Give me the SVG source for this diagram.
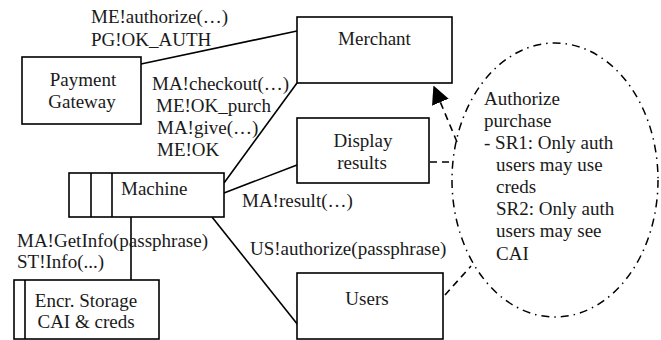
<svg xmlns="http://www.w3.org/2000/svg" width="661" height="340" viewBox="0 0 661 340" font-family="'Liberation Serif', 'Times New Roman', Times, serif" font-size="19">
<defs>
<style>
.box{fill:#fff;stroke:#000;stroke-width:1.6}
.ln{fill:none;stroke:#000;stroke-width:1.6}
.dash{fill:none;stroke:#000;stroke-width:1.6;stroke-dasharray:7,5}
.dd{fill:none;stroke:#000;stroke-width:1.5;stroke-dasharray:8,5,1.5,5}
text{font-family:'Liberation Serif','Times New Roman',Times,serif;font-size:19px;fill:#1a1a1a}
.c{text-anchor:middle}
</style>
<marker id="arr" viewBox="0 0 12 12" refX="11" refY="6" markerWidth="18" markerHeight="18" markerUnits="userSpaceOnUse" orient="auto">
<path d="M0,0 L12,6 L0,12 z" fill="#000"/>
</marker>
</defs>
<g id="connectors">
<line class="ln" x1="141" y1="64" x2="297" y2="31"/>
<line class="ln" x1="224" y1="183" x2="297" y2="83"/>
<line class="ln" x1="224" y1="193" x2="297" y2="165"/>
<line class="ln" x1="212" y1="217" x2="298" y2="325"/>
<line class="ln" x1="131" y1="217" x2="131" y2="280"/>
<line class="dash" x1="457" y1="142" x2="434" y2="87" marker-end="url(#arr)"/>
<line class="dash" x1="430" y1="162" x2="453" y2="162"/>
<line class="dash" x1="445" y1="295" x2="471" y2="266"/>
<text x="91" y="23">ME!authorize(…)</text>
<text x="91" y="46">PG!OK_AUTH</text>
<text x="152" y="90">MA!checkout(…)</text>
<text x="156" y="112">ME!OK_purch</text>
<text x="157" y="134">MA!give(…)</text>
<text x="157" y="156">ME!OK</text>
<text x="242" y="207">MA!result(…)</text>
<text x="250" y="255">US!authorize(passphrase)</text>
<text x="17" y="247">MA!GetInfo(passphrase)</text>
<text x="17" y="268">ST!Info(...)</text>
</g>
<g id="merchant">
<rect class="box" x="297" y="17" width="155" height="66"/>
<text class="c" x="374.5" y="45">Merchant</text>
</g>
<g id="payment-gateway">
<rect class="box" x="22" y="57" width="119" height="67"/>
<text class="c" x="83" y="86">Payment</text>
<text class="c" x="82" y="108">Gateway</text>
</g>
<g id="display-results">
<rect class="box" x="297" y="118" width="132" height="65"/>
<text class="c" x="363" y="147">Display</text>
<text class="c" x="362" y="169">results</text>
</g>
<g id="machine">
<rect class="box" x="69" y="173" width="155" height="44"/>
<line class="ln" x1="91" y1="173" x2="91" y2="217"/>
<line class="ln" x1="112" y1="173" x2="112" y2="217"/>
<text x="121" y="195">Machine</text>
</g>
<g id="storage">
<rect class="box" x="14" y="280" width="145" height="59"/>
<line class="ln" x1="25" y1="280" x2="25" y2="339"/>
<text class="c" x="86" y="307">Encr. Storage</text>
<text class="c" x="86" y="328">CAI &amp; creds</text>
</g>
<g id="users">
<rect class="box" x="297" y="273" width="146" height="66"/>
<text class="c" x="367" y="305">Users</text>
</g>
<g id="authorize-purchase">
<ellipse class="dd" cx="555" cy="180" rx="103" ry="137"/>
<text x="484" y="105">Authorize</text>
<text x="484" y="127">purchase</text>
<text x="484" y="149">- SR1: Only auth</text>
<text x="496" y="171">users may use</text>
<text x="496" y="193">creds</text>
<text x="496" y="215">SR2: Only auth</text>
<text x="496" y="237">users may see</text>
<text x="496" y="260">CAI</text>
</g>
</svg>
